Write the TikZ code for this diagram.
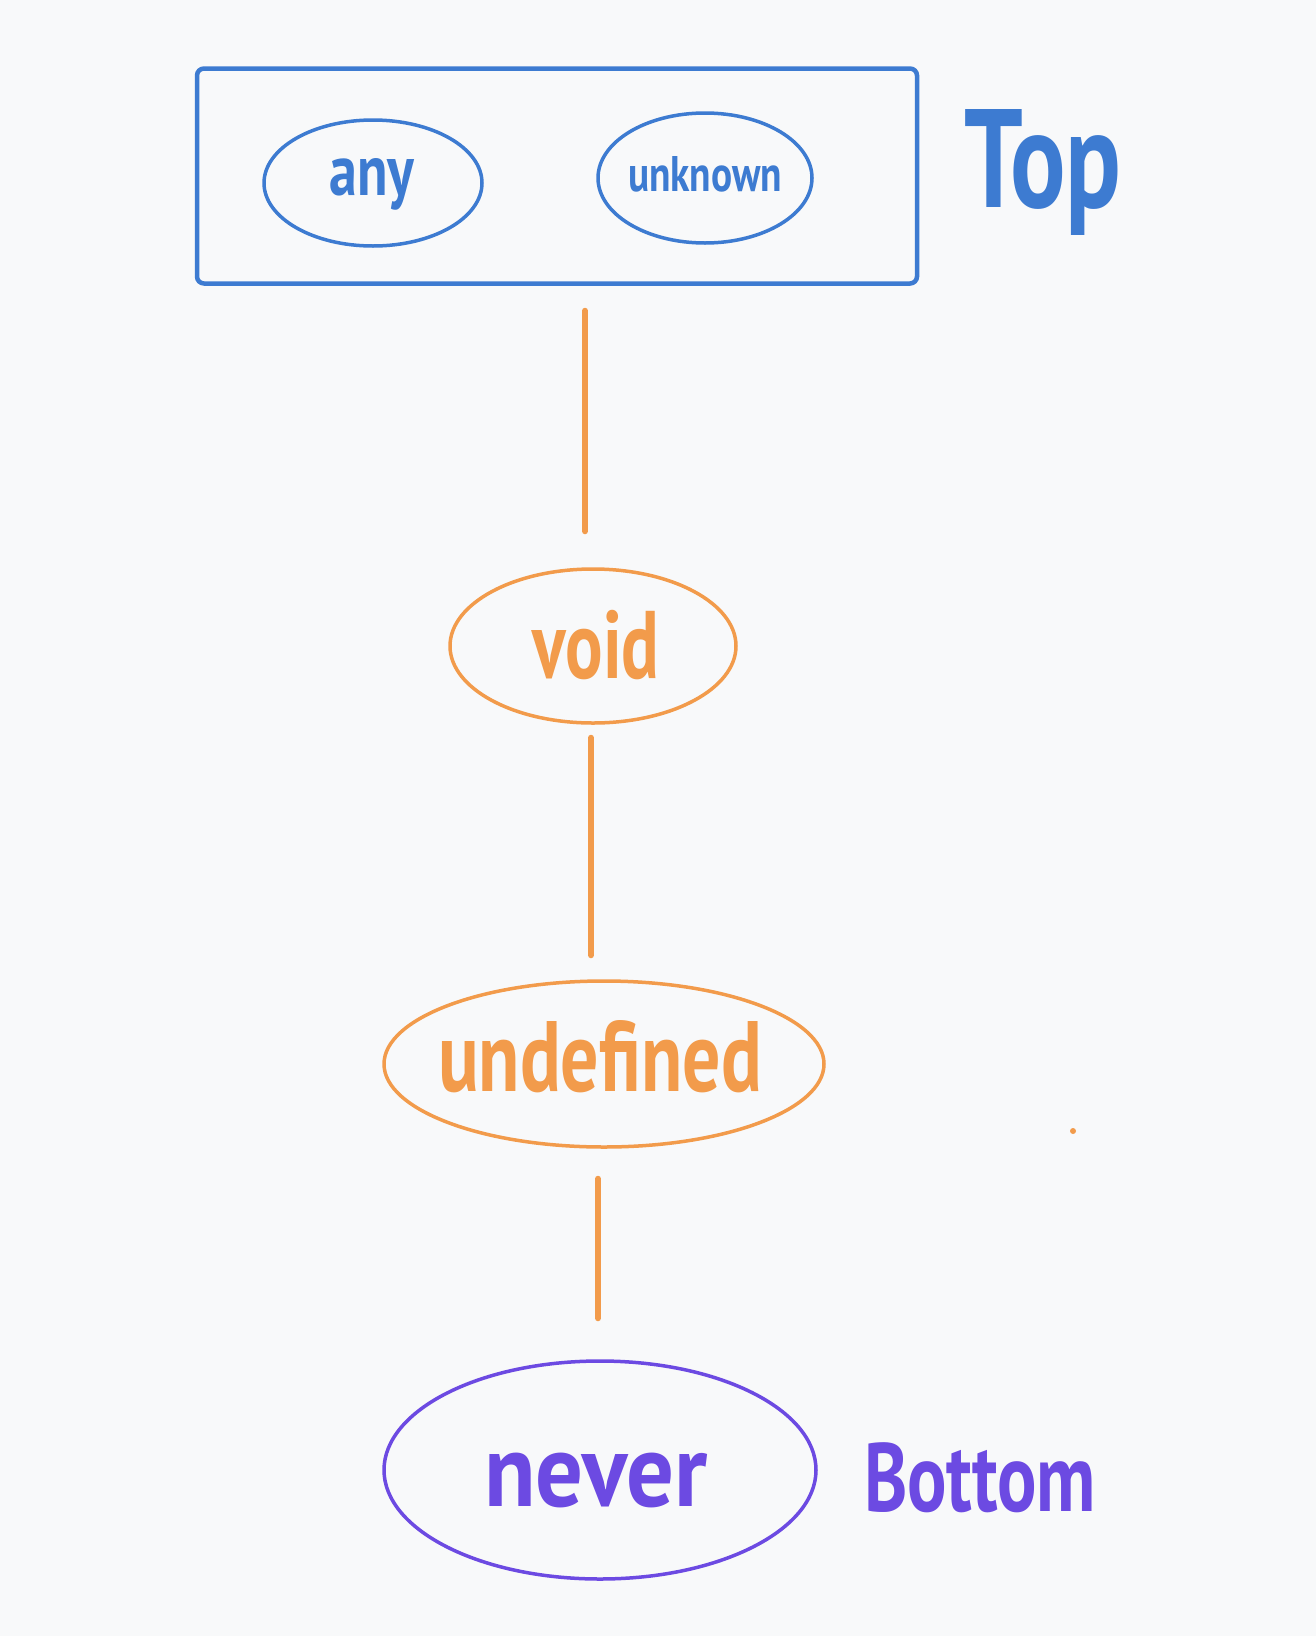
\documentclass[tikz,border=0pt]{standalone}
\usepackage{fontspec}
\usepackage{graphicx}
\setmainfont{PT Sans}
\usetikzlibrary{shapes.geometric}
\definecolor{bg}{HTML}{F8F9FA}
\definecolor{cblue}{HTML}{3D7BD1}
\definecolor{corange}{HTML}{F29B4B}
\definecolor{cpurple}{HTML}{6C4AE2}
\newcommand{\handtext}[3]{\resizebox{#2pt}{\height}{\fontsize{#1}{#1}\selectfont\bfseries #3}}
\tikzset{
  oval/.style={ellipse, draw, line width=3.5pt, inner sep=0pt},
  lbl/.style={anchor=base, inner sep=0pt},
  conn/.style={draw=corange, line width=6pt, line cap=round},
}
\begin{document}
\begin{tikzpicture}[x=1pt, y=-1pt]
\fill[bg] (0,0) rectangle (1316,1636);
\useasboundingbox (0,0) rectangle (1316,1636);
% top box
\node[draw=cblue, line width=4.5pt, rounded corners=7pt, minimum width=720pt, minimum height=215pt, inner sep=0pt] (box) at (557,176) {};
\node[oval, draw=cblue, minimum width=218pt, minimum height=126pt] (any) at (373,183) {};
\node[oval, draw=cblue, minimum width=214pt, minimum height=130pt] (unknown) at (705,178) {};
\node[lbl, text=cblue] (tany) at (372,195) {\handtext{72}{85}{any}};
\node[lbl, text=cblue] (tunknown) at (705,191) {\handtext{50}{154}{unknown}};
\node[lbl, text=cblue] (ttop) at (1043,207) {\handtext{140}{157}{Top}};
% void
\node[oval, draw=corange, minimum width=286pt, minimum height=154pt] (void) at (593,646) {};
\node[lbl, text=corange] (tvoid) at (596,678) {\handtext{96}{127}{void}};
% undefined
\node[oval, draw=corange, minimum width=440pt, minimum height=166pt] (undef) at (604,1064) {};
\node[lbl, text=corange] (tundef) at (600,1091) {\handtext{100}{324}{undefined}};
% never
\node[oval, draw=cpurple, minimum width=432pt, minimum height=218pt] (never) at (600,1470) {};
\node[lbl, text=cpurple] (tnever) at (596,1506) {\handtext{104}{224}{never}};
\node[lbl, text=cpurple] (tbottom) at (980,1511) {\handtext{97}{232}{Bottom}};
% connectors
\draw[conn, shorten <=25pt, shorten >=36pt] ([xshift=-8pt]void.north |- box.south) -- ([xshift=-8pt]void.north);
\draw[conn, shorten <=13pt, shorten >=24pt] ([xshift=-2pt]void.south) -- ([xshift=-2pt]void.south |- undef.north);
\draw[conn, shorten <=30pt, shorten >=41pt] ([xshift=-6pt]undef.south) -- ([xshift=-6pt]undef.south |- never.north);
% stray dot
\fill[corange] (1073,1131) circle (3pt);
\end{tikzpicture}
\end{document}
